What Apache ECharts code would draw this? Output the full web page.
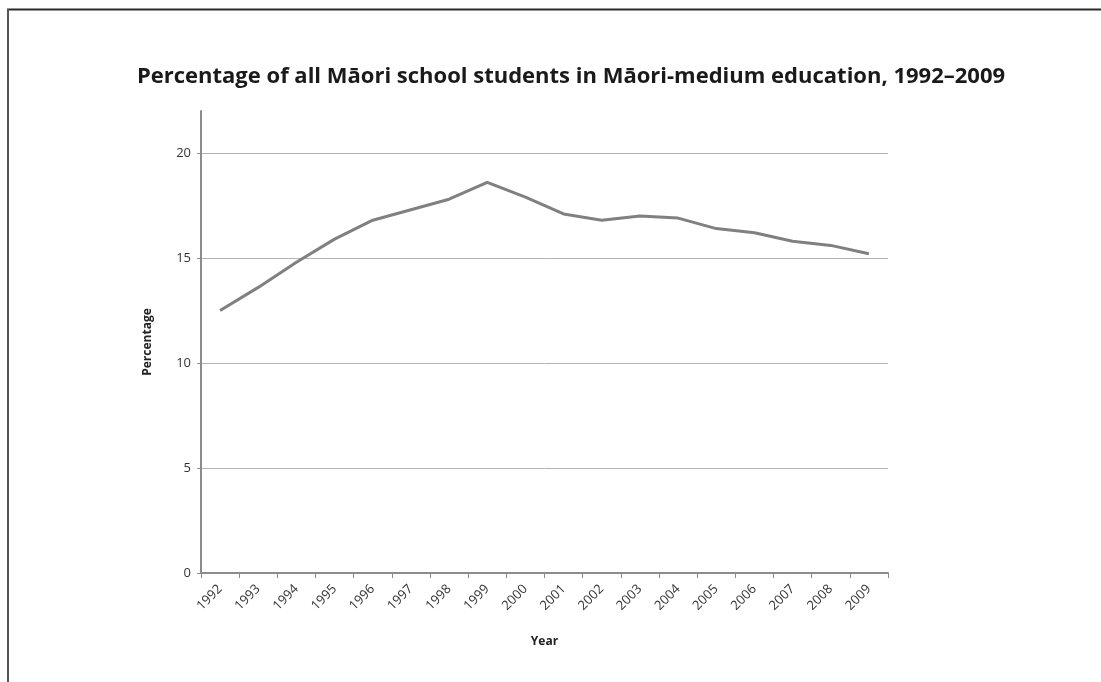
<!DOCTYPE html>
<html>
<head>
<meta charset="utf-8">
<script src="https://cdn.jsdelivr.net/npm/echarts@6/dist/echarts.min.js"></script>
<style>
html,body{margin:0;padding:0;background:#fff;}
#chart{width:1101px;height:682px;}
</style>
</head>
<body>
<div id="chart"></div>
<script>
const years = ['1992','1993','1994','1995','1996','1997','1998','1999','2000','2001','2002','2003','2004','2005','2006','2007','2008','2009'];
const percentage = [12.5, 13.6, 14.8, 15.9, 16.8, 17.3, 17.8, 18.6, 17.9, 17.1, 16.8, 17.0, 16.9, 16.4, 16.2, 15.8, 15.6, 15.2];
const yTicks = [0, 5, 10, 15, 20];

const FONT = '"Open Sans", "DejaVu Sans", sans-serif';
const chart = echarts.init(document.getElementById('chart'), null, {renderer: 'canvas'});
chart.setOption({
  animation: false,
  backgroundColor: '#ffffff',
  title: {
    text: 'Percentage of all Māori school students in Māori-medium education, 1992–2009',
    left: 566,
    top: 61,
    textAlign: 'center',
    textStyle: {fontFamily: FONT, fontWeight: 'bold', fontSize: 22, color: '#1a1a1a'}
  },
  graphic: [
    {type: 'line', shape: {x1: 7, y1: 9.5, x2: 1101, y2: 9.5}, style: {stroke: '#2a2a2a', lineWidth: 2}},
    {type: 'line', shape: {x1: 8, y1: 9, x2: 8, y2: 682}, style: {stroke: '#555555', lineWidth: 2}}
  ],
  grid: {left: 201, right: 213, top: 111, bottom: 109, containLabel: false},
  xAxis: {
    type: 'category',
    data: years,
    boundaryGap: true,
    name: 'Year',
    nameLocation: 'middle',
    nameGap: 63,
    nameTextStyle: {fontFamily: FONT, fontWeight: 'bold', fontSize: 12, color: '#222'},
    axisLine: {lineStyle: {color: '#8c8c8c', width: 2}},
    axisTick: {show: true, interval: 0, alignWithLabel: false, length: 5, lineStyle: {color: '#8c8c8c', width: 1}},
    axisLabel: {interval: 0, rotate: 45, margin: 14, fontFamily: FONT, fontSize: 13, color: '#333'},
    splitLine: {show: false}
  },
  yAxis: {
    type: 'value',
    min: 0,
    max: 22,
    interval: 5,
    name: 'Percentage',
    nameLocation: 'middle',
    nameGap: 47,
    nameRotate: 90,
    nameTextStyle: {fontFamily: FONT, fontWeight: 'bold', fontSize: 12, color: '#222'},
    axisLine: {show: true, lineStyle: {color: '#8c8c8c', width: 2}},
    axisTick: {show: true, length: 4, customValues: yTicks, lineStyle: {color: '#8c8c8c', width: 1}},
    axisLabel: {margin: 10, fontFamily: FONT, fontSize: 13, color: '#333', customValues: yTicks},
    splitLine: {show: true, showMinLine: false, lineStyle: {color: '#b3b3b3', width: 1}}
  },
  series: [{
    type: 'line',
    data: percentage,
    symbol: 'none',
    lineStyle: {color: '#808080', width: 3},
    itemStyle: {color: '#808080'}
  }]
});
</script>
</body>
</html>
